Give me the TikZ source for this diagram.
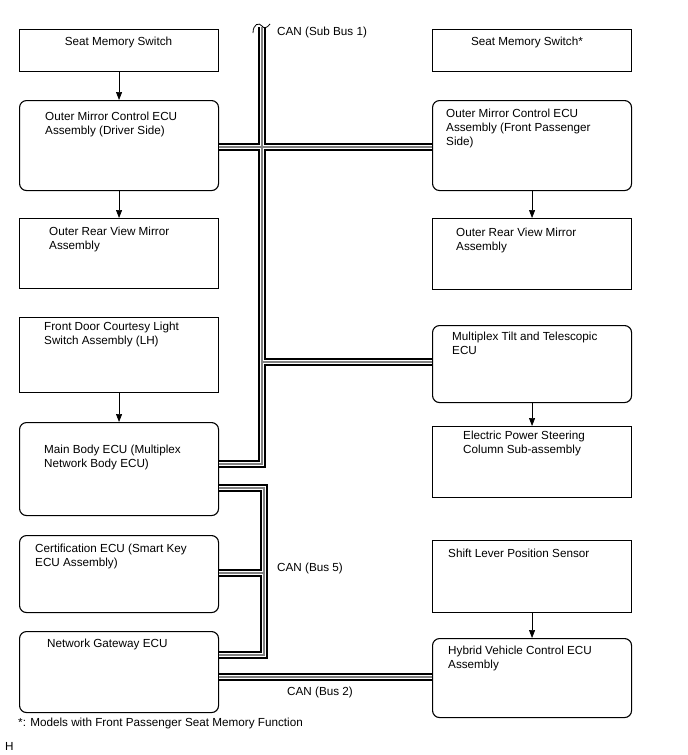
\documentclass[tikz,border=0pt]{standalone}
\usepackage{fontspec}
\setmainfont{Liberation Sans}
\usetikzlibrary{arrows.meta,calc}
\newcommand\cable[1]{%
  \draw[line width=8.6pt,black,line join=miter] #1;
  \draw[line width=4.4pt,white,line join=miter] #1;
  \draw[line width=1.4pt,black!50,line join=miter] #1;}
\begin{document}
\begin{tikzpicture}[x=1pt,y=-1pt,
  box/.style={draw=black, line width=1.1pt, anchor=north west, inner sep=0pt, minimum width=199pt},
  rbox/.style={box, rounded corners=7pt},
  lbl/.style={inner sep=0pt, anchor=north west, align=left, font=\fontsize{11.7}{14}\selectfont},
  slbl/.style={inner sep=0pt, anchor=base west, font=\fontsize{11.7}{14}\selectfont},
  arr/.style={line width=0.7pt, -{Triangle[length=8pt,width=6pt]}}]
\useasboundingbox (0,0) rectangle (688,755);

% left column
\node[box,  minimum height=42pt] (lsms) at (19,29) {};
\node[rbox, minimum height=90pt] (lomc) at (19,100) {};
\node[box,  minimum height=70pt] (lorv) at (19,218) {};
\node[box,  minimum height=75pt] (lfdc) at (19,317) {};
\node[rbox, minimum height=93pt] (mbe)  at (19,422) {};
\node[rbox, minimum height=77pt] (cert) at (19,535) {};
\node[rbox, minimum height=81pt] (ngw)  at (19,631) {};
% right column
\node[box,  minimum height=42pt] (rsms) at (432,29) {};
\node[rbox, minimum height=90pt] (romc) at (432,100) {};
\node[box,  minimum height=71pt] (rorv) at (432,218) {};
\node[rbox, minimum height=77pt] (mtt)  at (432,325) {};
\node[box,  minimum height=71pt] (eps)  at (432,426) {};
\node[box,  minimum height=72pt] (slp)  at (432,540) {};
\node[rbox, minimum height=79pt] (hv)   at (432,638) {};

% texts
\node[slbl, anchor=base] (tlsms) at (118.5,45) {Seat Memory Switch};
\node[lbl] (tlomc) at (45,111.4) {Outer Mirror Control ECU\\Assembly (Driver Side)};
\node[lbl] (tlorv) at (49,226.4) {Outer Rear View Mirror\\Assembly};
\node[lbl] (tlfdc) at (44,321.4) {Front Door Courtesy Light\\Switch Assembly (LH)};
\node[lbl] (tmbe)  at (44,444.4) {Main Body ECU (Multiplex\\Network Body ECU)};
\node[lbl] (tcert) at (35,543.4) {Certification ECU (Smart Key\\ECU Assembly)};
\node[slbl] (tngw) at (47,647) {Network Gateway ECU};

\node[slbl, anchor=base] (trsms) at (527,45) {Seat Memory Switch*};
\node[lbl] (tromc) at (446,108.4) {Outer Mirror Control ECU\\Assembly (Front Passenger\\Side)};
\node[lbl] (trorv) at (456,227.4) {Outer Rear View Mirror\\Assembly};
\node[lbl] (tmtt)  at (452,331.4) {Multiplex Tilt and Telescopic\\ECU};
\node[lbl] (teps)  at (463,430.4) {Electric Power Steering\\Column Sub-assembly};
\node[slbl] (tslp) at (448,557) {Shift Lever Position Sensor};
\node[lbl] (thv)   at (448,645.4) {Hybrid Vehicle Control ECU\\Assembly};

\node[slbl] (can1) at (277,35) {CAN (Sub Bus 1)};
\node[slbl] (can5) at (277,571) {CAN (Bus 5)};
\node[slbl, anchor=base] (can2) at (320,695) {CAN (Bus 2)};
\node[slbl] (note) at (18,726) {*: Models with Front Passenger Seat Memory Function};
\node[slbl] (hmark) at (5,750) {H};

% arrows
\draw[arr] (lsms) -- (lomc);
\draw[arr] (lomc) -- (lorv);
\draw[arr] (lfdc) -- (mbe);
\draw[arr] (romc) -- (rorv);
\draw[arr] (mtt) -- (eps);
\draw[arr] (slp) -- (hv);

% buses
\coordinate (sbtop) at (262,27);
\coordinate (sbc) at (262,464);
\cable{(sbtop) -- (sbc) -- (mbe.east |- sbc)
       (lomc.east |- 0,147) -- (romc.west |- 0,147)
       (262,362) -- (mtt.west |- 0,362)}
\cable{(mbe.east |- 0,488) -- (264,488) -- (264,655) -- (ngw.east |- 0,655)
       (264,573) -- (cert.east |- 0,573)}
\cable{(ngw.east |- 0,677) -- (hv.west |- 0,677)}

% break mark at top of sub bus
\draw[line width=0.8pt] (253,33) .. controls (253,24) and (259,22) .. (262,26)
  .. controls (264,29) and (267,28) .. (270,24);
\end{tikzpicture}
\end{document}
